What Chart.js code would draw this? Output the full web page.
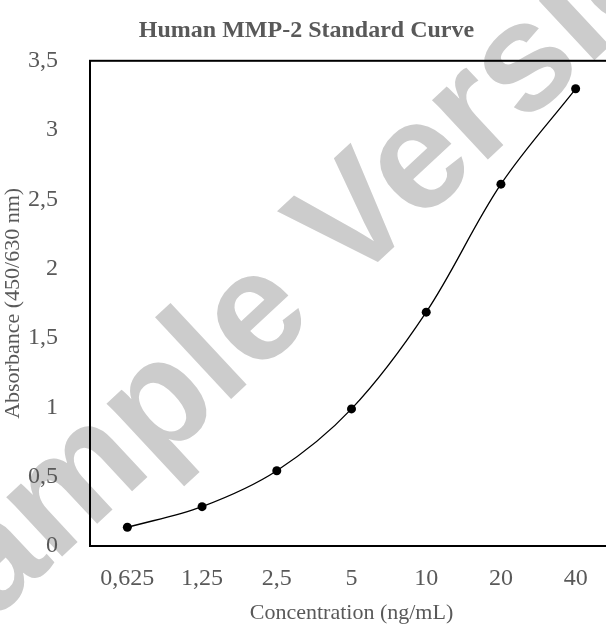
<!DOCTYPE html>
<html>
<head>
<meta charset="utf-8">
<script src="https://cdn.jsdelivr.net/npm/chart.js@4/dist/chart.umd.min.js"></script>
<style>
  html, body { margin: 0; padding: 0; background: #fff; overflow: hidden; }
  #wrap { position: relative; width: 620px; height: 630px; }
</style>
</head>
<body>
<div id="wrap"><canvas id="curveChart"></canvas></div>
<script>
const concentrations = ["0,625", "1,25", "2,5", "5", "10", "20", "40"];
const absorbance = [0.135, 0.284, 0.543, 0.989, 1.687, 2.61, 3.298];
const yTicks = [0, 0.5, 1, 1.5, 2, 2.5, 3, 3.5];

const TEXT_GREY = "#595959";
const SERIF = "'Liberation Serif', 'Times New Roman', serif";

// white background + the grey "Sample Version" watermark under the plot
const watermark = {
  id: "watermark",
  beforeDraw(chart) {
    const ctx = chart.ctx;
    ctx.save();
    ctx.fillStyle = "#fff";
    ctx.fillRect(0, 0, chart.width, chart.height);
    ctx.translate(307, 270);
    ctx.rotate(-43 * Math.PI / 180);
    ctx.fillStyle = "#cccccc";
    ctx.font = "bold 154px 'Liberation Sans', Arial, sans-serif";
    ctx.textAlign = "center";
    ctx.textBaseline = "middle";
    ctx.fillText("Sample Version", 0, 0);
    ctx.restore();
  },
};

// black frame round the plot area
const frame = {
  id: "frame",
  afterDatasetsDraw(chart) {
    const a = chart.chartArea;
    const ctx = chart.ctx;
    ctx.save();
    ctx.strokeStyle = "#000";
    ctx.lineWidth = 2;
    ctx.strokeRect(a.left, a.top, a.right - a.left, a.bottom - a.top);
    ctx.restore();
  },
};

new Chart(document.getElementById("curveChart"), {
  type: "line",
  data: {
    labels: concentrations,
    datasets: [
      {
        data: absorbance,
        borderColor: "#000",
        borderWidth: 1.3,
        backgroundColor: "#000",
        pointRadius: 4.5,
        pointBackgroundColor: "#000",
        pointBorderWidth: 0,
        tension: 0.35,
        fill: false,
      },
    ],
  },
  options: {
    responsive: true,
    maintainAspectRatio: false,
    animation: false,
    layout: { padding: { top: 0, right: 7, bottom: 0, left: 0 } },
    scales: {
      x: {
        offset: true,
        afterFit(scale) {
          scale.height = 84;
        },
        grid: { display: false, drawTicks: false },
        border: { display: false },
        ticks: {
          color: TEXT_GREY,
          font: { family: SERIF, size: 24 },
          padding: 18,
          maxRotation: 0,
        },
        title: {
          display: true,
          text: "Concentration (ng/mL)",
          color: TEXT_GREY,
          font: { family: SERIF, size: 22 },
          padding: { top: 4, bottom: 4 },
        },
      },
      y: {
        min: 0,
        max: 3.5,
        afterBuildTicks(scale) {
          scale.ticks = yTicks.map((v) => ({ value: v }));
        },
        afterFit(scale) {
          scale.width = 90;
        },
        grid: { display: false, drawTicks: false },
        border: { display: false },
        ticks: {
          color: TEXT_GREY,
          font: { family: SERIF, size: 24 },
          padding: 32,
          callback: (v) => String(v).replace(".", ","),
        },
        title: {
          display: true,
          text: "Absorbance (450/630 nm)",
          color: TEXT_GREY,
          font: { family: SERIF, size: 22 },
          padding: { top: 0, bottom: 0 },
        },
      },
    },
    plugins: {
      legend: { display: false },
      tooltip: { enabled: false },
      title: {
        display: true,
        text: "Human MMP-2 Standard Curve",
        color: TEXT_GREY,
        font: { family: SERIF, size: 24, weight: "bold" },
        padding: { top: 16, bottom: 16 },
      },
    },
  },
  plugins: [watermark, frame],
});
</script>
</body>
</html>
